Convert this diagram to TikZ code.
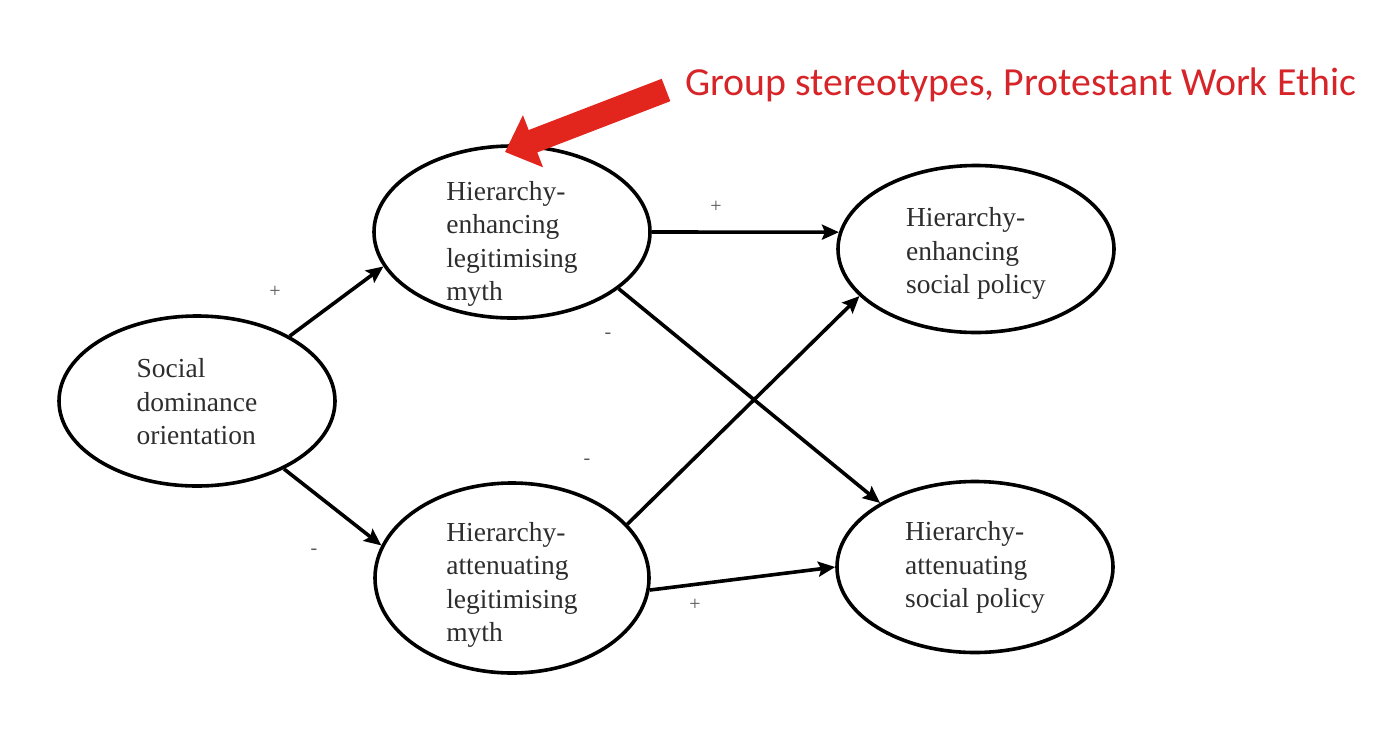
\documentclass[tikz,border=0pt]{standalone}
\usepackage{fontspec}
\setmainfont{Liberation Serif}
\newfontfamily\calib{Carlito}
\usetikzlibrary{shapes.geometric,arrows.meta}
\definecolor{redarrow}{RGB}{226,38,30}
\definecolor{redtext}{RGB}{214,36,40}
\definecolor{txt}{RGB}{45,45,45}
\newcommand{\lowered}[2]{\raisebox{-#1}[0pt][0pt]{\begin{tabular}{@{}l@{}}#2\end{tabular}}}
\tikzset{
  oval/.style={ellipse, draw=black, line width=3.6pt, inner sep=0pt,
    minimum width=276pt, minimum height=172pt, text=txt,
    font=\fontsize{27.5}{33.5}\selectfont},
  conn/.style={line width=3.6pt, -{Stealth[length=17pt,width=15pt,inset=3pt]}},
  sign/.style={text=txt!80, font=\fontsize{20}{22}\selectfont, inner sep=0pt}
}
\begin{document}
\begin{tikzpicture}[x=1pt,y=-1pt]
\useasboundingbox (0,0) rectangle (1390,748);
\node[oval, minimum height=170pt] (sdo) at (197,401) {\lowered{10pt}{Social\\dominance\\orientation}};
\node[oval, minimum height=172pt] (hem) at (512,232) {\lowered{18pt}{Hierarchy-\\enhancing\\legitimising\\myth}};
\node[oval, minimum width=274pt, minimum height=190pt] (ham) at (512,578) {\lowered{13pt}{Hierarchy-\\attenuating\\legitimising\\myth}};
\node[oval, minimum height=167pt] (hep) at (976,249) {\lowered{11pt}{Hierarchy-\\enhancing\\social policy}};
\node[oval, minimum height=171pt] (hap) at (975,567) {\lowered{7pt}{Hierarchy-\\attenuating\\social policy}};

\draw[conn] (sdo.35) -- (hem.195);
\draw[conn] (sdo.-38) -- (ham.166.5);
\draw[conn] (hem.0) -- (hep.173);
\draw[conn] (hem.-28.5) -- (hap.146);
\draw[conn] (ham.25) -- (hep.-158.4);
\draw[conn] (ham.-5) -- (hap.180);

\node[sign] (s1) at (275,292) {+};
\node[sign] (s2) at (314,552) {-};
\node[sign] (s3) at (716,207) {+};
\node[sign] (s4) at (608,336) {-};
\node[sign] (s5) at (587,462) {-};
\node[sign] (s6) at (695,605) {+};

\node[anchor=west, text=redtext, inner sep=0pt, font=\calib\fontsize{39.8}{44}\selectfont] (note) at (685,85) {Group stereotypes, Protestant Work Ethic};
\coordinate (redtail) at (666,90);
\coordinate (redtip) at (505,152);
\draw[redarrow, line width=24pt, -{Triangle[length=30pt,width=54pt]}] (redtail) -- (redtip);
\end{tikzpicture}
\end{document}
